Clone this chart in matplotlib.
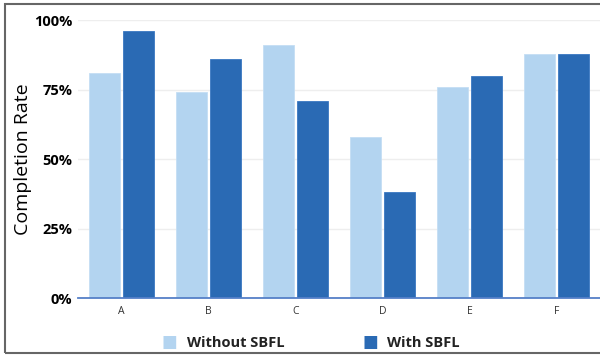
import numpy as np
import matplotlib
matplotlib.use("Agg")
import matplotlib.pyplot as plt
from matplotlib.patches import Rectangle

categories = ["A", "B", "C", "D", "E", "F"]
without_sbfl = [81, 74, 91, 58, 76, 88]
with_sbfl = [96, 86, 71, 38, 80, 88]
yticks = [0, 25, 50, 75, 100]

light = "#b3d4f0"
dark = "#2a6ab4"

plt.rcParams["font.family"] = ["Open Sans", "DejaVu Sans"]

fig = plt.figure(figsize=(6, 3.6), dpi=100)
ax = fig.add_axes([0.13, 0.172, 0.87, 0.772])

x = np.arange(len(categories))
w = 0.356
off = 0.19
ax.bar(x - off, without_sbfl, w, color=light, edgecolor="#c4def4", linewidth=0.6, zorder=3)
ax.bar(x + off, with_sbfl, w, color=dark, edgecolor="#3a78c2", linewidth=0.6, zorder=3)

ax.set_xlim(-0.5, len(categories) - 0.5)
ax.set_ylim(0, 100)
ax.set_yticks(yticks)
ax.set_yticklabels([f"{v}%" for v in yticks], fontsize=10.5, fontweight="bold")
ax.set_xticks(x)
ax.set_xticklabels(categories, fontsize=7.5, color="#333333")
ax.tick_params(axis="both", length=0, pad=4)
ax.tick_params(axis="x", pad=6)
ax.grid(axis="y", color="#eeeeee", linewidth=1, zorder=0)
for s in ["top", "right", "left"]:
    ax.spines[s].set_visible(False)
ax.spines["bottom"].set_color("#5580c8")
ax.spines["bottom"].set_linewidth(1.3)
ax.spines["bottom"].set_zorder(4)

ax.set_ylabel("Completion Rate", fontsize=14)
ax.yaxis.set_label_coords(-0.088, 0.5)

# legend row below the axes
fig.text(0.283, 0.048, "\u25a0", color=light, fontsize=12, va="center", ha="center")
fig.text(0.312, 0.048, "Without SBFL", fontsize=10.5, fontweight="bold", va="center", color="#222222")
fig.text(0.617, 0.048, "\u25a0", color=dark, fontsize=12, va="center", ha="center")
fig.text(0.645, 0.048, "With SBFL", fontsize=10.5, fontweight="bold", va="center", color="#222222")

# frame around the figure
fig.patches.append(Rectangle((0.008, 0.02), 1.1, 0.97, transform=fig.transFigure,
                             fill=False, edgecolor="#666666", linewidth=1.5))

fig.savefig("out.png", dpi=100, facecolor="white")
